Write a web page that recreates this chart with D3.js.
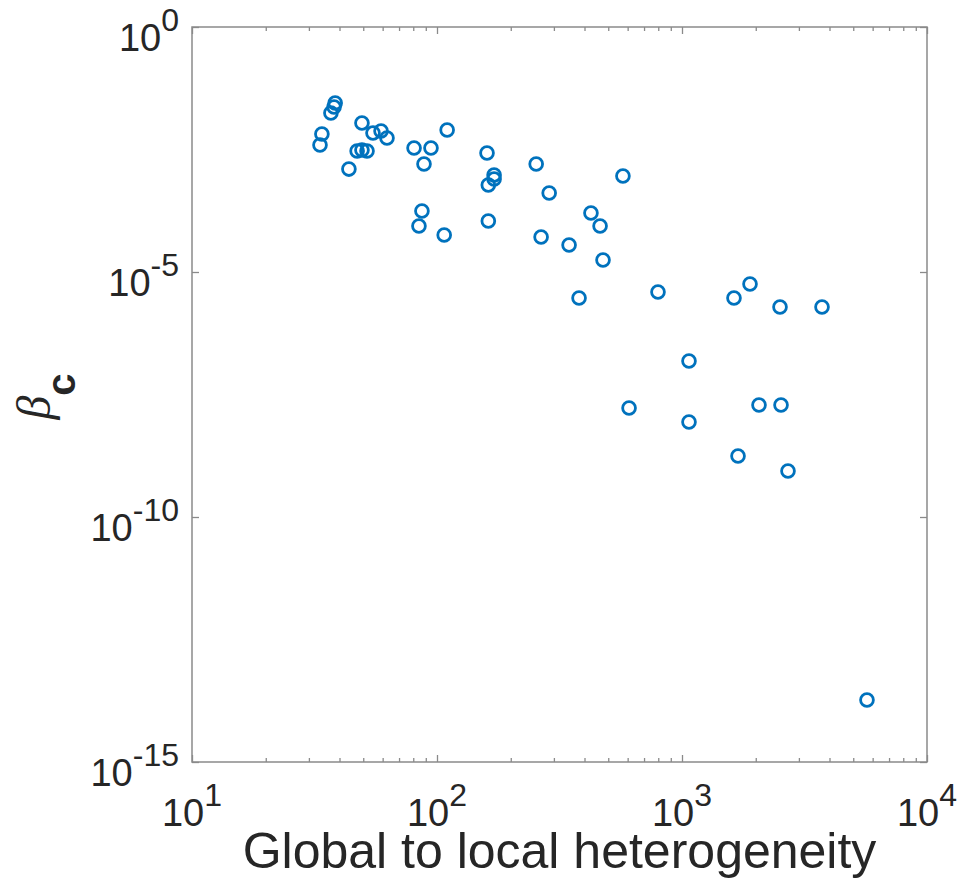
<!DOCTYPE html>
<html>
<head>
<meta charset="utf-8">
<script src="https://cdn.jsdelivr.net/npm/d3@7"></script>
<style>
  html, body { margin: 0; padding: 0; background: #fff; }
  svg { display: block; }
</style>
</head>
<body>
<div id="chart"></div>
<script>
// heterogeneity ratio (x) and critical beta (y)
const heterogeneity = [
  38.4, 38.0, 36.9, 33.9, 33.3, 49.4, 54.8, 59.1, 62.5, 47.2,
  49.4, 51.8, 43.7, 80.6, 94.5, 88.5, 110, 160, 171, 171,
  162, 254, 287, 574, 86.8, 84.4, 107, 162, 266, 346,
  425, 463, 476, 380, 798, 1630, 1895, 2512, 3728, 1068,
  608, 1068, 2062, 2536, 1693, 2708, 5689
];
const betaC = [
  2.81e-2, 2.33e-2, 1.76e-2, 6.55e-3, 3.91e-3, 1.10e-2, 6.87e-3, 7.55e-3, 5.43e-3, 2.95e-3,
  3.09e-3, 2.95e-3, 1.26e-3, 3.39e-3, 3.39e-3, 1.60e-3, 7.91e-3, 2.68e-3, 9.54e-4, 7.91e-4,
  5.97e-4, 1.60e-3, 4.09e-4, 9.10e-4, 1.76e-4, 8.69e-5, 5.69e-5, 1.10e-4, 5.18e-5, 3.56e-5,
  1.60e-4, 8.69e-5, 1.76e-5, 2.95e-6, 3.91e-6, 2.95e-6, 5.69e-6, 1.93e-6, 1.93e-6, 1.53e-7,
  1.68e-8, 8.69e-9, 1.93e-8, 1.93e-8, 1.76e-9, 8.69e-10, 1.84e-14
];
const xTicks = [1e1, 1e2, 1e3, 1e4];
const xTickExp = ["1", "2", "3", "4"];
const yTicks = [1, 1e-5, 1e-10, 1e-15];
const yTickExp = ["0", "-5", "-10", "-15"];

const W = 963, H = 886;
const mLeft = 192, mRight = 927, mTop = 27, mBottom = 762;
const textCol = "#262626", axisCol = "#8a8a8a", markCol = "#0072BD";

const svg = d3.select("#chart").append("svg")
  .attr("width", W).attr("height", H);

const x = d3.scaleLog().domain([10, 1e4]).range([mLeft, mRight]);
const y = d3.scaleLog().domain([1, 1e-15]).range([mTop, mBottom]);

// minor ticks 2..9 in every decade
const xMinor = [];
for (let d = 10; d < 1e4; d *= 10) {
  for (let k = 2; k <= 9; k++) xMinor.push(d * k);
}

function styleAxis(g) {
  g.select(".domain").remove();
  g.selectAll("line").attr("stroke", axisCol).attr("stroke-width", 1.3);
  g.selectAll("text").remove();
}

// x axis bottom + top, ticks pointing inward
svg.append("g").attr("transform", `translate(0,${mBottom})`)
  .call(d3.axisBottom(x).tickValues(xTicks).tickSize(-7).tickFormat(""))
  .call(styleAxis);
svg.append("g").attr("transform", `translate(0,${mBottom})`)
  .call(d3.axisBottom(x).tickValues(xMinor).tickSize(-4).tickFormat(""))
  .call(styleAxis);
svg.append("g").attr("transform", `translate(0,${mTop})`)
  .call(d3.axisTop(x).tickValues(xTicks).tickSize(-7).tickFormat(""))
  .call(styleAxis);
svg.append("g").attr("transform", `translate(0,${mTop})`)
  .call(d3.axisTop(x).tickValues(xMinor).tickSize(-4).tickFormat(""))
  .call(styleAxis);

// y axis left + right
svg.append("g").attr("transform", `translate(${mLeft},0)`)
  .call(d3.axisLeft(y).tickValues(yTicks).tickSize(-7).tickFormat(""))
  .call(styleAxis);
svg.append("g").attr("transform", `translate(${mRight},0)`)
  .call(d3.axisRight(y).tickValues(yTicks).tickSize(-7).tickFormat(""))
  .call(styleAxis);

// box
svg.append("rect")
  .attr("x", mLeft).attr("y", mTop)
  .attr("width", mRight - mLeft).attr("height", mBottom - mTop)
  .attr("fill", "none").attr("stroke", axisCol).attr("stroke-width", 1.5);

// tick labels  10^n
const font = "'Liberation Sans', Arial, Helvetica, sans-serif";
const xl = svg.append("g").attr("font-family", font).attr("fill", textCol);
xTicks.forEach((v, i) => {
  const t = xl.append("text")
    .attr("x", x(v)).attr("y", mBottom + 64)
    .attr("text-anchor", "middle");
  t.append("tspan").attr("font-size", 38).text("10");
  t.append("tspan").attr("font-size", 32).attr("dy", -20).text(xTickExp[i]);
});
yTicks.forEach((v, i) => {
  const t = xl.append("text")
    .attr("x", mLeft - 13).attr("y", y(v) + 24)
    .attr("text-anchor", "end");
  t.append("tspan").attr("font-size", 38).text("10");
  t.append("tspan").attr("font-size", 32).attr("dy", -20).text(yTickExp[i]);
});

// axis titles
svg.append("text")
  .attr("x", (mLeft + mRight) / 2).attr("y", 868)
  .attr("text-anchor", "middle")
  .attr("font-family", font).attr("font-size", 50)
  .attr("fill", textCol)
  .text("Global to local heterogeneity");

const yl = svg.append("text")
  .attr("transform", `translate(50,${(mTop + mBottom) / 2 + 2}) rotate(-90)`)
  .attr("text-anchor", "middle")
  .attr("fill", textCol);
yl.append("tspan")
  .attr("font-family", "'Liberation Serif', 'Times New Roman', serif")
  .attr("font-style", "italic").attr("font-size", 48)
  .text("β");
yl.append("tspan")
  .attr("font-family", font).attr("font-weight", "bold")
  .attr("font-size", 40).attr("dy", 25)
  .text("c");

// markers
const pts = heterogeneity.map((h, i) => ({ h, b: betaC[i] }));
svg.append("g").selectAll("circle")
  .data(pts)
  .enter()
  .append("circle")
  .attr("cx", d => x(d.h))
  .attr("cy", d => y(d.b))
  .attr("r", 6.4)
  .attr("fill", "none")
  .attr("stroke", markCol)
  .attr("stroke-width", 2.8);
</script>
</body>
</html>
